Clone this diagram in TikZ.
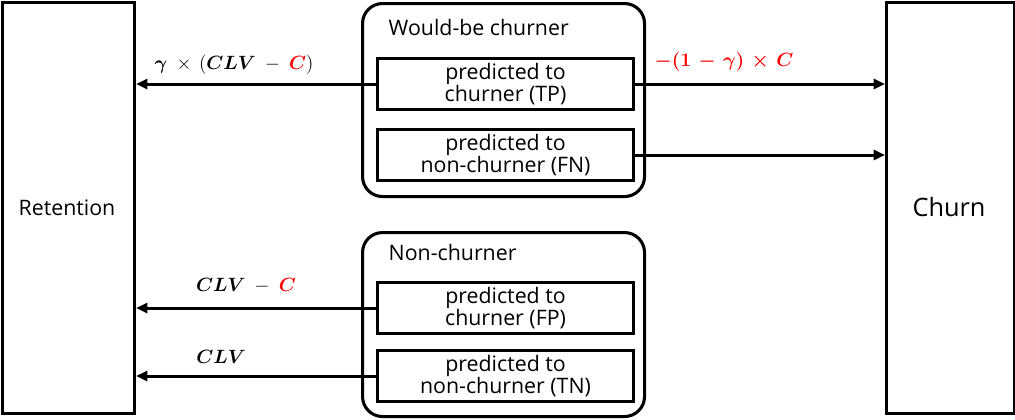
\documentclass[tikz,border=0pt]{standalone}
\usepackage{fontspec}
\usepackage{bm}
\setmainfont{Open Sans}
\usetikzlibrary{arrows.meta}
\begin{document}
\begin{tikzpicture}[x=0.75pt,y=-0.75pt,
  lw/.style={line width=2.3pt},
  bigbox/.style={lw,draw,minimum width=132*0.75pt,minimum height=411*0.75pt,inner sep=0pt,anchor=north west},
  group/.style={lw,draw,rounded corners=15pt,minimum width=282*0.75pt,anchor=north west,inner sep=0pt},
  pred/.style={lw,draw,minimum width=256*0.75pt,minimum height=51*0.75pt,anchor=north west,inner sep=0pt,align=center,font=\fontsize{16}{17}\selectfont},
  ttl/.style={anchor=west,font=\fontsize{16}{18}\selectfont},
  arr/.style={lw,-{Triangle[length=8.5pt,width=7.5pt]}},
  lbl/.style={font=\fontsize{14}{16}\selectfont}
]
\useasboundingbox (0,0) rectangle (1015,419);
\node[bigbox] (ret) at (1,1) {};
\node[font=\fontsize{16}{18}\selectfont] (rett) at (67,208) {Retention};
\node[bigbox,minimum width=128*0.75pt] (churn) at (885,1) {};
\node[font=\fontsize{19}{21}\selectfont] (churnt) at (949,207) {Churn};
\node[group,minimum height=193*0.75pt] (wb) at (361,2) {};
\node[ttl] (wbt) at (384,27) {Would-be churner};
\node[group,minimum height=184*0.75pt] (nc) at (361,231) {};
\node[ttl] (nct) at (384,252) {Non-churner};
\node[pred] (tp) at (376,57) {predicted to\\churner (TP)};
\node[pred] (fn) at (376,128) {predicted to\\non-churner (FN)};
\node[pred] (fp) at (376,281) {predicted to\\churner (FP)};
\node[pred] (tn) at (376,349) {predicted to\\non-churner (TN)};
\draw[arr] (tp.west) -- (tp.west -| ret.east);
\draw[arr] (tp.east) -- (tp.east -| churn.west);
\draw[arr] (fn.east) -- (fn.east -| churn.west);
\draw[arr] (fp.west) -- (fp.west -| ret.east);
\draw[arr] (tn.west) -- (tn.west -| ret.east);
\node[lbl] (l1) at (234,65) {$\bm{\gamma}\;\times\,(\bm{CLV}\ -\ \textcolor{red}{\bm{C}})$};
\node[lbl,text=red,anchor=west] (l2) at (650,62) {$\bm{-(1\,-\,\gamma)\,\times\,C}$};
\node[lbl] (l3) at (246,286) {$\bm{CLV}\ -\ \textcolor{red}{\bm{C}}$};
\node[lbl] (l4) at (221,357) {$\bm{CLV}$};
\end{tikzpicture}
\end{document}
